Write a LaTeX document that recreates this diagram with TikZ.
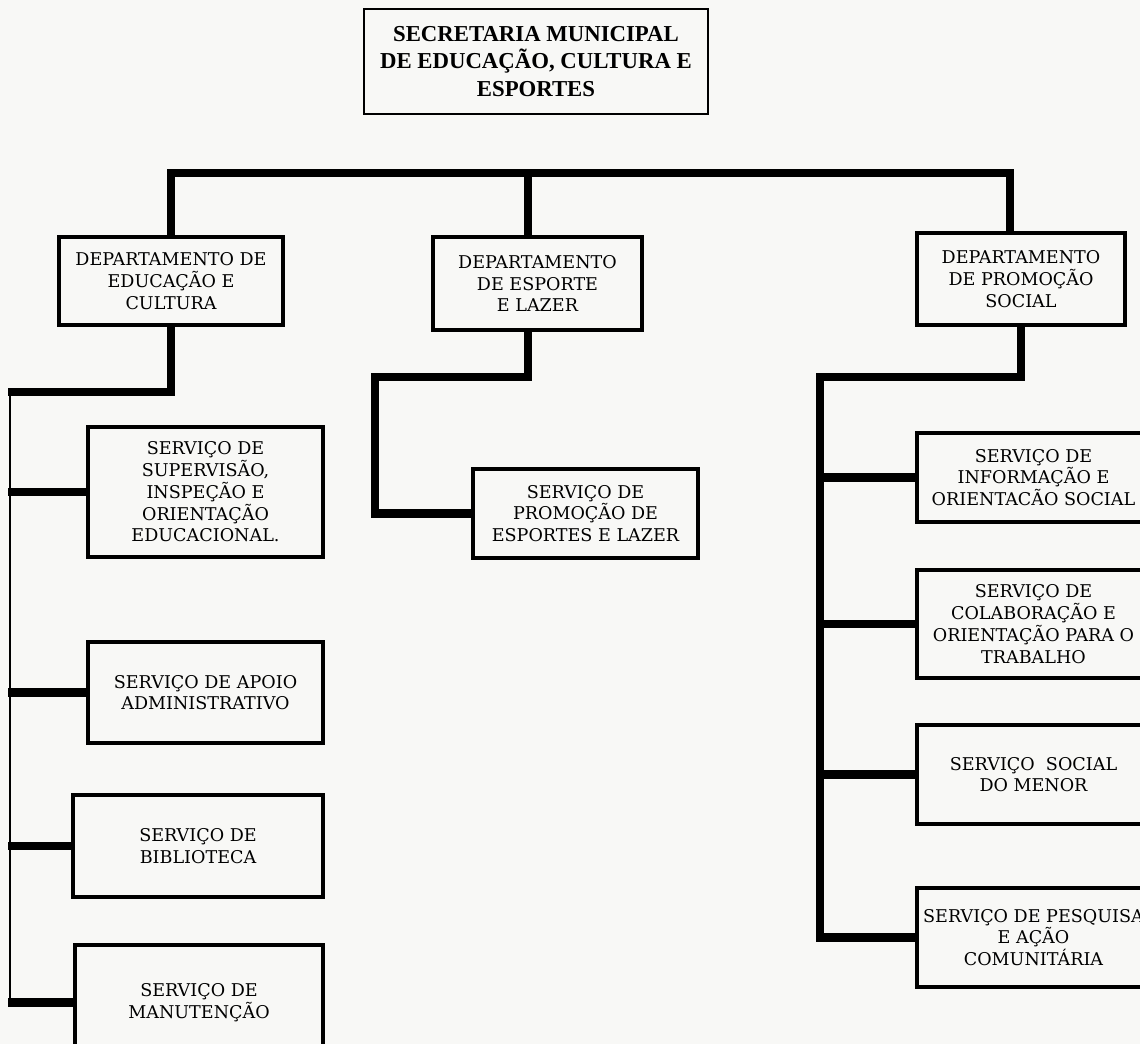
\documentclass[tikz,border=0pt]{standalone}
\usepackage{fontspec}
\setmainfont{DejaVu Serif}
\newfontfamily\headfont{Liberation Serif}
\usetikzlibrary{calc}
\definecolor{paper}{RGB}{248,248,246}

\begin{document}
\begin{tikzpicture}[x=0.025cm, y=-0.025cm,
	orgbox/.style={draw, line width=2.2pt, inner sep=0pt, align=center, font=\orgsize},
	headbox/.style={draw, line width=1.6pt, inner sep=0pt, align=center, font=\headsize},
	heavyline/.style={line width=5.7pt},
	thinline/.style={line width=1.4pt}]
	\newcommand{\orgsize}{\fontsize{12.5}{15.5}\selectfont}
	\newcommand{\headsize}{\fontsize{16.2}{19.5}\headfont\bfseries}
	%Page and clipping
	\useasboundingbox (0,0) rectangle (1140,1044);
	\fill[paper] (0,0) rectangle (1140,1044);
	\clip (0,0) rectangle (1140,1044);
	%Top box
	\node[headbox, minimum width=8.6cm, minimum height=2.625cm] (sec) at (536,61.5) {SECRETARIA MUNICIPAL\\DE EDUCAÇÃO, CULTURA E\\ESPORTES};
	%Departments
	\node[orgbox, minimum width=5.6cm, minimum height=2.2cm] (depEdu) at (171,281) {DEPARTAMENTO DE\\EDUCAÇÃO E\\CULTURA};
	\node[orgbox, minimum width=5.225cm, minimum height=2.325cm] (depEsp) at (537.5,283.5) {DEPARTAMENTO\\DE ESPORTE\\E LAZER};
	\node[orgbox, minimum width=5.2cm, minimum height=2.3cm] (depSoc) at (1021,279) {DEPARTAMENTO\\DE PROMOÇÃO\\SOCIAL};
	%Services under educacao e cultura
	\node[orgbox, minimum width=5.875cm, minimum height=3.25cm] (srvSup) at (205.5,492) {SERVIÇO DE\\SUPERVISÃO,\\INSPEÇÃO E\\ORIENTAÇÃO\\EDUCACIONAL.};
	\node[orgbox, minimum width=5.875cm, minimum height=2.525cm] (srvApoio) at (205.5,692.5) {SERVIÇO DE APOIO\\ADMINISTRATIVO};
	\node[orgbox, minimum width=6.25cm, minimum height=2.55cm] (srvBib) at (198,846) {SERVIÇO DE\\BIBLIOTECA};
	\node[orgbox, minimum width=6.2cm, minimum height=2.875cm] (srvMan) at (199,1002.5) {SERVIÇO DE\\MANUTENÇÃO};
	%Service under esporte e lazer
	\node[orgbox, minimum width=5.625cm, minimum height=2.225cm] (srvProm) at (585.5,513.5) {SERVIÇO DE\\PROMOÇÃO DE\\ESPORTES E LAZER};
	%Services under promocao social
	\node[orgbox, minimum width=5.825cm, minimum height=2.225cm] (srvInf) at (1033.5,477.5) {SERVIÇO DE\\INFORMAÇÃO E\\ORIENTACÃO SOCIAL};
	\node[orgbox, minimum width=5.825cm, minimum height=2.7cm] (srvColab) at (1033.5,624) {SERVIÇO DE\\COLABORAÇÃO E\\ORIENTAÇÃO PARA O\\TRABALHO};
	\node[orgbox, minimum width=5.825cm, minimum height=2.475cm] (srvMenor) at (1033.5,774.5) {SERVIÇO\ \ SOCIAL\\DO MENOR};
	\node[orgbox, minimum width=5.825cm, minimum height=2.475cm] (srvPesq) at (1033.5,937.5) {SERVIÇO DE PESQUISA\\E AÇÃO\\COMUNITÁRIA};
	%Main bar
	\coordinate (barR) at (1010,173);
	\coordinate (barM) at (528,173);
	\draw[heavyline] (depEdu.north) |- (barR) -- (barR |- depSoc.north);
	\draw[heavyline] (barM) -- (barM |- depEsp.north);
	%Left branch
	\coordinate (eduJoin) at (8,392);
	\coordinate (eduSpineTop) at (10,392);
	\coordinate (eduSpineEnd) at (10,1000);
	\draw[heavyline] (depEdu.south) |- (eduJoin);
	\draw[thinline] (eduSpineTop) -- (eduSpineEnd);
	\foreach \srv in {srvSup, srvApoio, srvBib, srvMan} {
		\draw[heavyline] (eduJoin |- \srv.west) -- (\srv.west);
	}
	%Middle branch
	\coordinate (espTurn) at (375,377);
	\draw[heavyline] (barM |- depEsp.south) -- (barM |- espTurn) -- (espTurn) |- (srvProm.west);
	%Right branch
	\coordinate (socTurn) at (820,377);
	\draw[heavyline] (depSoc.south) |- (socTurn) |- (srvPesq.west);
	\foreach \srv in {srvInf, srvColab, srvMenor} {
		\draw[heavyline] (socTurn |- \srv.west) -- (\srv.west);
	}
\end{tikzpicture}
\end{document}
